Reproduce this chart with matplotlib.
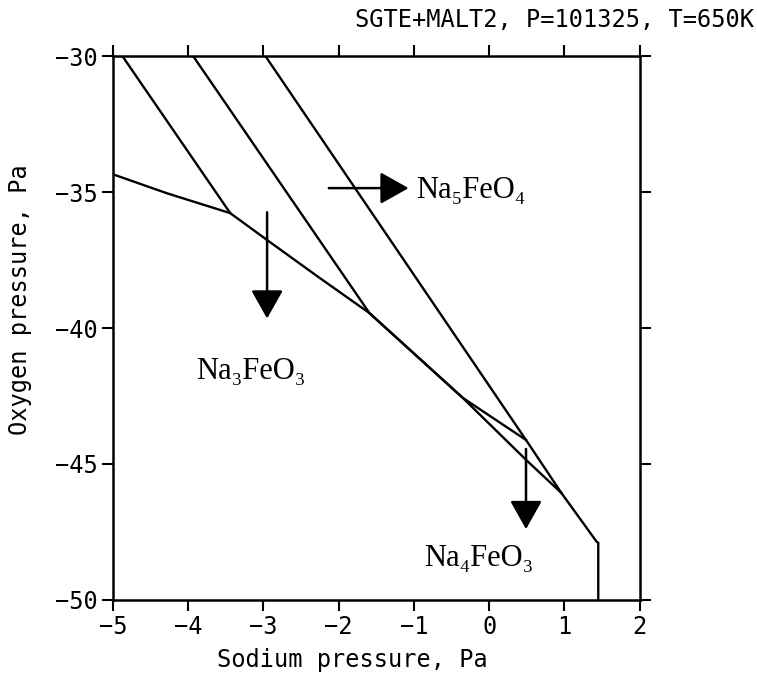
import matplotlib
matplotlib.use("Agg")
import matplotlib.pyplot as plt

# Phase boundary lines (log sodium pressure vs log oxygen pressure)
curve_x = [-5.0, -4.28, -3.44, -2.95, -2.28, -1.59, -0.35, 0.49, 0.96, 1.43, 1.45, 1.45]
curve_y = [-34.34, -35.04, -35.77, -36.76, -38.10, -39.45, -42.57, -44.85, -46.07, -47.87, -47.90, -50.0]
line1_x = [-4.87, -3.44]
line1_y = [-30.0, -35.77]
line2_x = [-3.93, -1.59, -0.35, 0.49]
line2_y = [-30.0, -39.45, -42.57, -44.12]
line3_x = [-2.97, 0.49, 0.96]
line3_y = [-30.0, -44.12, -46.07]

# Region labels and arrows
labels = ["Na₅FeO₄", "Na₃FeO₃", "Na₄FeO₃"]
label_x = [-0.97, -3.89, -0.87]
label_y = [-34.95, -41.6, -48.5]
arrow_start = [(-2.13, -34.85), (-2.95, -35.74), (0.49, -44.45)]
arrow_end = [(-1.07, -34.85), (-2.95, -39.65), (0.49, -47.4)]

xticks = [-5, -4, -3, -2, -1, 0, 1, 2]
yticks = [-30, -35, -40, -45, -50]

mono = "DejaVu Sans Mono"
serif = ["Liberation Serif", "DejaVu Serif"]

fig = plt.figure(figsize=(7.57, 6.87), dpi=100)
ax = fig.add_axes([0.149, 0.127, 0.696, 0.791])

for xs, ys in [(curve_x, curve_y), (line1_x, line1_y), (line2_x, line2_y), (line3_x, line3_y)]:
    ax.plot(xs, ys, color="black", lw=1.7)

for s, e in zip(arrow_start, arrow_end):
    ax.annotate("", xy=e, xytext=s,
                arrowprops=dict(arrowstyle="-|>,head_length=0.8,head_width=0.45",
                                mutation_scale=22, lw=1.8, color="black",
                                shrinkA=0, shrinkB=0))

for t, x, y in zip(labels, label_x, label_y):
    ax.text(x, y, t, family=serif, fontsize=22, ha="left", va="center")

ax.set_xlim(-5, 2)
ax.set_ylim(-50, -30)
ax.set_xticks(xticks)
ax.set_yticks(yticks)
ax.tick_params(direction="out", length=8, width=1.5, labelsize=17,
               top=True, right=True, pad=3)
for lab in ax.get_xticklabels() + ax.get_yticklabels():
    lab.set_family(mono)
for sp in ax.spines.values():
    sp.set_linewidth(1.8)

fig.text(352 / 757, 1 - 660 / 687, "Sodium pressure, Pa", family=mono,
         fontsize=17, ha="center", va="center")
fig.text(20 / 757, 1 - 300 / 687, "Oxygen pressure, Pa", family=mono,
         fontsize=17, ha="center", va="center", rotation=90)
fig.text(754 / 757, 1 - 20 / 687, "SGTE+MALT2, P=101325, T=650K", family=mono,
         fontsize=17, ha="right", va="center")

fig.savefig("out.png", dpi=100)
